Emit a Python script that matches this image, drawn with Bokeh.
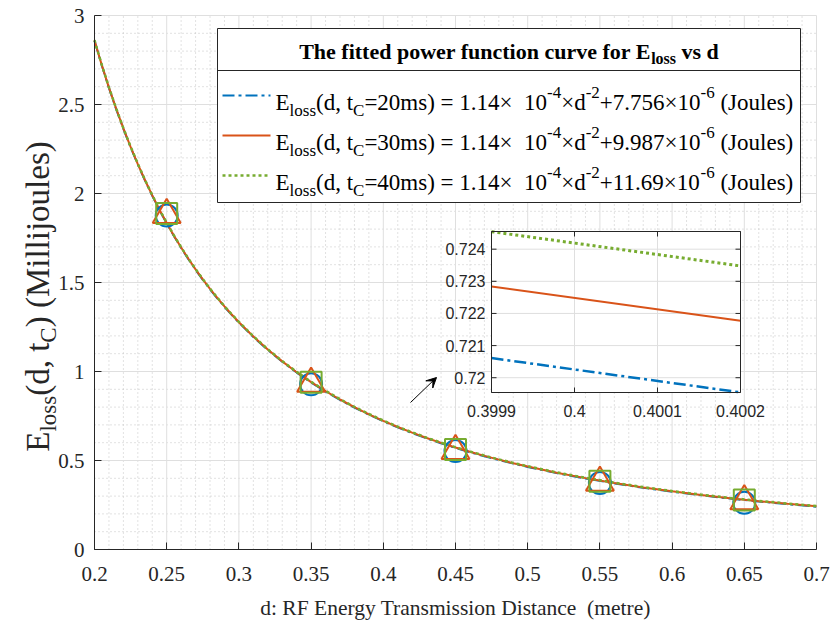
import math
from bokeh.plotting import figure
from bokeh.models import FixedTicker, CustomJSTickFormatter, Label, Range1d, Arrow, VeeHead
from bokeh.core.properties import value
from bokeh.embed import file_html
from bokeh.resources import INLINE

# ---------------- data (millijoules) ----------------
d_curve = [0.200, 0.205, 0.210, 0.215, 0.220, 0.225, 0.230, 0.235, 0.240, 0.245,
           0.250, 0.255, 0.260, 0.265, 0.270, 0.275, 0.280, 0.285, 0.290, 0.295,
           0.300, 0.31, 0.32, 0.33, 0.34, 0.35, 0.36, 0.37, 0.38, 0.39,
           0.40, 0.41, 0.42, 0.43, 0.44, 0.45, 0.46, 0.47, 0.48, 0.49,
           0.50, 0.52, 0.54, 0.56, 0.58, 0.60, 0.62, 0.64, 0.66, 0.68, 0.70]
E20_curve = [2.8578, 2.7205, 2.5928, 2.4740, 2.3632, 2.2597, 2.1628, 2.0721, 1.9870, 1.9070,
             1.8318, 1.7610, 1.6942, 1.6312, 1.5716, 1.5152, 1.4619, 1.4113, 1.3633, 1.3178,
             1.2745, 1.1941, 1.1211, 1.0546, 0.9940, 0.9384, 0.8874, 0.8405, 0.7973, 0.7573,
             0.7203, 0.6860, 0.6541, 0.6244, 0.5966, 0.5708, 0.5466, 0.5239, 0.5026, 0.4826,
             0.4638, 0.4294, 0.3988, 0.3713, 0.3467, 0.3245, 0.3044, 0.2861, 0.2695, 0.2543, 0.2405]
E30_curve = [2.8600, 2.7227, 2.5950, 2.4762, 2.3654, 2.2619, 2.1650, 2.0743, 1.9892, 1.9092,
             1.8340, 1.7632, 1.6964, 1.6334, 1.5738, 1.5174, 1.4641, 1.4135, 1.3655, 1.3200,
             1.2767, 1.1963, 1.1233, 1.0568, 0.9962, 0.9406, 0.8896, 0.8427, 0.7995, 0.7595,
             0.7225, 0.6882, 0.6563, 0.6266, 0.5988, 0.5730, 0.5488, 0.5261, 0.5048, 0.4848,
             0.4660, 0.4316, 0.4010, 0.3735, 0.3489, 0.3267, 0.3066, 0.2883, 0.2717, 0.2565, 0.2427]
E40_curve = [2.8617, 2.7244, 2.5967, 2.4779, 2.3671, 2.2636, 2.1667, 2.0760, 1.9909, 1.9109,
             1.8357, 1.7649, 1.6981, 1.6351, 1.5755, 1.5191, 1.4658, 1.4152, 1.3672, 1.3217,
             1.2784, 1.1980, 1.1250, 1.0585, 0.9979, 0.9423, 0.8913, 0.8444, 0.8012, 0.7612,
             0.7242, 0.6899, 0.6580, 0.6283, 0.6005, 0.5747, 0.5505, 0.5278, 0.5065, 0.4865,
             0.4677, 0.4333, 0.4027, 0.3752, 0.3506, 0.3284, 0.3083, 0.2900, 0.2734, 0.2582, 0.2444]

d_meas = [0.25, 0.35, 0.45, 0.55, 0.65]
E20_meas = [1.876, 0.928, 0.553, 0.373, 0.262]
E30_meas = [1.879, 0.932, 0.554, 0.376, 0.272]
E40_meas = [1.888, 0.940, 0.562, 0.383, 0.278]

d_zoom = [0.3999, 0.4002]
E20_zoom = [0.720611, 0.719544]
E30_zoom = [0.722842, 0.721775]
E40_zoom = [0.724545, 0.723478]
zoom_xlim = [0.3999, 0.4002]
zoom_ylim = [0.71954, 0.72455]

x_ticks = [0.2, 0.25, 0.3, 0.35, 0.4, 0.45, 0.5, 0.55, 0.6, 0.65, 0.7]
x_tick_labels = ["0.2", "0.25", "0.3", "0.35", "0.4", "0.45", "0.5", "0.55", "0.6", "0.65", "0.7"]
y_ticks = [0, 0.5, 1, 1.5, 2, 2.5, 3]
y_tick_labels = ["0", "0.5", "1", "1.5", "2", "2.5", "3"]
zoom_x_ticks = [0.3999, 0.4, 0.4001, 0.4002]
zoom_x_tick_labels = ["0.3999", "0.4", "0.4001", "0.4002"]
zoom_y_ticks = [0.720, 0.721, 0.722, 0.723, 0.724]
zoom_y_tick_labels = ["0.72", "0.721", "0.722", "0.723", "0.724"]

series_tc = ["20ms", "30ms", "40ms"]
series_const = ["7.756", "9.987", "11.69"]
coef_text = "1.14"

# ---------------- styling ----------------
BLUE, ORANGE, GREEN = "#0072BD", "#D95319", "#77AC30"
AX = "#262626"
SERIF = "Liberation Serif"
SANS = "Liberation Sans"
DASHDOT = "12 4 3 4"
DOTTED = "3 3"
W, H = 830, 623

# axes box position in page pixels
FR_L, FR_R, FR_T, FR_B = 94, 816, 15, 549
XMIN, XMAX, YMIN, YMAX = 0.2, 0.7, 0.0, 3.0


def X(px):
    return XMIN + (px - FR_L) / (FR_R - FR_L) * (XMAX - XMIN)


def Y(py):
    return YMIN + (FR_B - py) / (FR_B - FR_T) * (YMAX - YMIN)


p = figure(width=W, height=H, x_range=Range1d(X(0), X(W)), y_range=Range1d(Y(H), Y(0)),
           output_backend="svg", toolbar_location=None, min_border=0)
p.outline_line_color = None
p.background_fill_color = "white"
p.border_fill_color = "white"
p.xgrid.visible = False
p.ygrid.visible = False

p.xaxis.ticker = FixedTicker(ticks=x_ticks, minor_ticks=[])
p.yaxis.ticker = FixedTicker(ticks=y_ticks, minor_ticks=[])
p.xaxis.formatter = CustomJSTickFormatter(args=dict(tv=x_ticks, tl=x_tick_labels),
    code="const i = tv.findIndex(t => Math.abs(t - tick) < 1e-9); return i < 0 ? '' : tl[i];")
p.yaxis.formatter = CustomJSTickFormatter(args=dict(tv=y_ticks, tl=y_tick_labels),
    code="const i = tv.findIndex(t => Math.abs(t - tick) < 1e-9); return i < 0 ? '' : tl[i];")
p.xaxis.fixed_location = YMIN
p.yaxis.fixed_location = XMIN
p.xaxis.bounds = (XMIN, XMAX)
p.yaxis.bounds = (YMIN, YMAX)
for ax in (p.xaxis[0], p.yaxis[0]):
    ax.major_tick_in = 7
    ax.major_tick_out = 0
    ax.minor_tick_in = 0
    ax.minor_tick_out = 0
    ax.axis_line_color = AX
    ax.axis_line_width = 1
    ax.major_tick_line_color = AX
    ax.major_label_text_font = SERIF
    ax.major_label_text_font_size = "21px"
    ax.major_label_text_color = AX
p.xaxis.major_label_standoff = 17
p.yaxis.major_label_standoff = 10

# ---------------- grid (drawn from tick lists) ----------------
x_minor = [round(XMIN + 0.01 * i, 2) for i in range(51) if i % 5]
y_minor = [round(0.1 * i, 1) for i in range(31) if i % 5]
p.segment(x0=x_minor, x1=x_minor, y0=[YMIN] * len(x_minor), y1=[YMAX] * len(x_minor),
          line_color="#c4c4c4", line_width=1, line_dash="1 3")
p.segment(x0=[XMIN] * len(y_minor), x1=[XMAX] * len(y_minor), y0=y_minor, y1=y_minor,
          line_color="#c4c4c4", line_width=1, line_dash="1 3")
p.segment(x0=x_ticks, x1=x_ticks, y0=[YMIN] * len(x_ticks), y1=[YMAX] * len(x_ticks),
          line_color="#dfdfdf", line_width=1)
p.segment(x0=[XMIN] * len(y_ticks), x1=[XMAX] * len(y_ticks), y0=y_ticks, y1=y_ticks,
          line_color="#dfdfdf", line_width=1)

# ---------------- main curves ----------------
p.line(d_curve, E20_curve, line_color=BLUE, line_width=2, line_dash=DASHDOT)
p.line(d_curve, E30_curve, line_color=ORANGE, line_width=2)
p.line(d_curve, E40_curve, line_color=GREEN, line_width=2.5, line_dash=DOTTED)

p.scatter(d_meas, E20_meas, marker="circle", size=22, fill_alpha=0, line_color=BLUE, line_width=2)
p.scatter(d_meas, E30_meas, marker="triangle", size=28, fill_alpha=0, line_color=ORANGE, line_width=2)
p.scatter(d_meas, E40_meas, marker="square", size=21, fill_alpha=0, line_color=GREEN, line_width=2)

# ---------------- text helpers ----------------
TR = {' ': 250, '\u00a0': 250, '(': 333, ')': 333, ',': 250, '.': 250, ':': 278, '=': 564, '+': 564,
      '-': 333, '\u00d7': 564,
      'A': 722, 'B': 667, 'C': 667, 'D': 722, 'E': 611, 'F': 556, 'G': 722, 'H': 722, 'I': 333,
      'J': 389, 'K': 722, 'L': 611, 'M': 889, 'N': 722, 'O': 722, 'P': 556, 'Q': 722, 'R': 667,
      'S': 556, 'T': 611, 'U': 722, 'V': 722, 'W': 944, 'X': 722, 'Y': 722, 'Z': 611,
      'a': 444, 'b': 500, 'c': 444, 'd': 500, 'e': 444, 'f': 333, 'g': 500, 'h': 500, 'i': 278,
      'j': 278, 'k': 500, 'l': 278, 'm': 778, 'n': 500, 'o': 500, 'p': 500, 'q': 500, 'r': 333,
      's': 389, 't': 278, 'u': 500, 'v': 500, 'w': 722, 'x': 500, 'y': 500, 'z': 444}
TB = {' ': 250, 'E': 667, 'T': 667, 'a': 500, 'c': 444, 'd': 556, 'e': 444, 'f': 333, 'h': 556,
      'i': 278, 'l': 278, 'n': 556, 'o': 500, 'p': 556, 'r': 444, 's': 389, 't': 333, 'u': 556,
      'v': 500, 'w': 722}
SUB, SUP = 0.33, 0.42


def tw(text, size, bold=False):
    tbl = TB if bold else TR
    return sum(tbl.get(ch, 500) for ch in text) * size / 1000.0


def rich_width(segs, fs, fss, bold=False):
    return sum(tw(t, fs if k == "n" else fss, bold) for t, k in segs)


def rich(segs, x0, y0, fs, fss, bold=False, color="#000000", vertical=False):
    pos = 0.0
    for text, kind in segs:
        size = fs if kind == "n" else fss
        off = 0.0 if kind == "n" else (SUB * fs if kind == "sub" else -SUP * fs)
        s = text.lstrip(" ")
        pos += tw(text[:len(text) - len(s)], size, bold)
        if vertical:
            px, py, ang = x0 + off, y0 - pos, math.pi / 2
        else:
            px, py, ang = x0 + pos, y0 + off, 0.0
        p.add_layout(Label(x=X(px), y=Y(py), text=s, angle=ang, text_font=SERIF,
                           text_font_size=f"{size}px",
                           text_font_style="bold" if bold else "normal",
                           text_color=color, text_align="left", text_baseline="alphabetic"))
        pos += tw(s, size, bold)
    return pos


# ---------------- axis labels ----------------
p.add_layout(Label(x=X((FR_L + FR_R) / 2), y=Y(607), text="d: RF Energy Transmission Distance \u00a0(metre)",
                   text_font=SERIF, text_font_size="21.5px", text_color=AX,
                   text_align="center", text_baseline="alphabetic"))
ylab = [("E", "n"), ("loss", "sub"), ("(d, t", "n"), ("C", "sub"), (") (Millijoules)", "n")]
wy = rich_width(ylab, 33, 23)
rich(ylab, 37.5, 296 + wy / 2, 33, 23, color=AX, vertical=True)

# ---------------- inset (zoomed view) ----------------
IL, IR, IT, IB = 491, 740, 231, 392
kx = (zoom_xlim[1] - zoom_xlim[0]) / (IR - IL)
ky = (zoom_ylim[1] - zoom_ylim[0]) / (IB - IT)
p.extra_x_ranges = {"zx": Range1d(zoom_xlim[0] - IL * kx, zoom_xlim[1] + (W - IR) * kx)}
p.extra_y_ranges = {"zy": Range1d(zoom_ylim[0] - (H - IB) * ky, zoom_ylim[1] + IT * ky)}
Z = dict(x_range_name="zx", y_range_name="zy")

p.quad(left=[X(IL)], right=[X(IR)], top=[Y(IT)], bottom=[Y(IB)], fill_color="white", line_color=None)
nx, ny = len(zoom_x_ticks), len(zoom_y_ticks)
p.segment(x0=zoom_x_ticks, x1=zoom_x_ticks, y0=[zoom_ylim[0]] * nx, y1=[zoom_ylim[1]] * nx,
          line_color="#dfdfdf", line_width=1, **Z)
p.segment(x0=[zoom_xlim[0]] * ny, x1=[zoom_xlim[1]] * ny, y0=zoom_y_ticks, y1=zoom_y_ticks,
          line_color="#dfdfdf", line_width=1, **Z)
p.line(d_zoom, E20_zoom, line_color=BLUE, line_width=2.5, line_dash=DASHDOT, **Z)
p.line(d_zoom, E30_zoom, line_color=ORANGE, line_width=2, **Z)
p.line(d_zoom, E40_zoom, line_color=GREEN, line_width=3, line_dash=DOTTED, **Z)
TL = 5
p.segment(x0=zoom_x_ticks, x1=zoom_x_ticks, y0=[zoom_ylim[0]] * nx, y1=[zoom_ylim[0] + TL * ky] * nx,
          line_color=AX, line_width=1, **Z)
p.segment(x0=zoom_x_ticks, x1=zoom_x_ticks, y0=[zoom_ylim[1]] * nx, y1=[zoom_ylim[1] - TL * ky] * nx,
          line_color=AX, line_width=1, **Z)
p.segment(x0=[zoom_xlim[0]] * ny, x1=[zoom_xlim[0] + TL * kx] * ny, y0=zoom_y_ticks, y1=zoom_y_ticks,
          line_color=AX, line_width=1, **Z)
p.segment(x0=[zoom_xlim[1]] * ny, x1=[zoom_xlim[1] - TL * kx] * ny, y0=zoom_y_ticks, y1=zoom_y_ticks,
          line_color=AX, line_width=1, **Z)
p.quad(left=[X(IL)], right=[X(IR)], top=[Y(IT)], bottom=[Y(IB)], fill_alpha=0, line_color=AX, line_width=1)
p.text(x=zoom_x_ticks, y=[zoom_ylim[0] - 18 * ky] * nx, text=zoom_x_tick_labels,
       text_font=value(SANS), text_font_size="16px", text_color=AX,
       text_align="center", text_baseline="middle", **Z)
p.text(x=[zoom_xlim[0] - 6 * kx] * ny, y=zoom_y_ticks, text=zoom_y_tick_labels,
       text_font=value(SANS), text_font_size="16px", text_color=AX,
       text_align="right", text_baseline="middle", **Z)

p.add_layout(Arrow(x_start=X(410), y_start=Y(402), x_end=X(436), y_end=Y(377),
                   line_color="black", line_width=1,
                   end=VeeHead(size=10, fill_color="black", line_color="black", line_width=1)))

# ---------------- legend ----------------
LL, LR, LT, LB = 217, 800, 28, 202
p.quad(left=[X(LL)], right=[X(LR)], top=[Y(LT)], bottom=[Y(LB)], fill_color="white",
       line_color=AX, line_width=1)
p.segment(x0=[X(LL)], x1=[X(LR)], y0=[Y(70)], y1=[Y(70)], line_color=AX, line_width=1)
title_segs = [("The fitted power function curve for E", "n"), ("loss", "sub"), (" vs d", "n")]
wt = rich_width(title_segs, 22, 16, bold=True)
rich(title_segs, (LL + LR) / 2 - wt / 2, 51, 22, 16, bold=True)

row_y = [95, 135, 175]
colors = [BLUE, ORANGE, GREEN]
dashes = [DASHDOT, "solid", DOTTED]
widths = [2, 2, 2.5]
for i in range(3):
    p.line([X(222), X(270)], [Y(row_y[i]), Y(row_y[i])], line_color=colors[i],
           line_width=widths[i], line_dash=dashes[i])
    segs = [("E", "n"), ("loss", "sub"), ("(d, t", "n"), ("C", "sub"),
            ("=" + series_tc[i] + ") = " + coef_text + "\u00d7 \u00a010", "n"), ("-4", "sup"),
            ("\u00d7d", "n"), ("-2", "sup"), ("+" + series_const[i] + "\u00d710", "n"), ("-6", "sup"),
            (" (Joules)", "n")]
    rich(segs, 275, row_y[i] + 7, 23, 17)

open("out.html", "w").write(file_html(p, INLINE))
